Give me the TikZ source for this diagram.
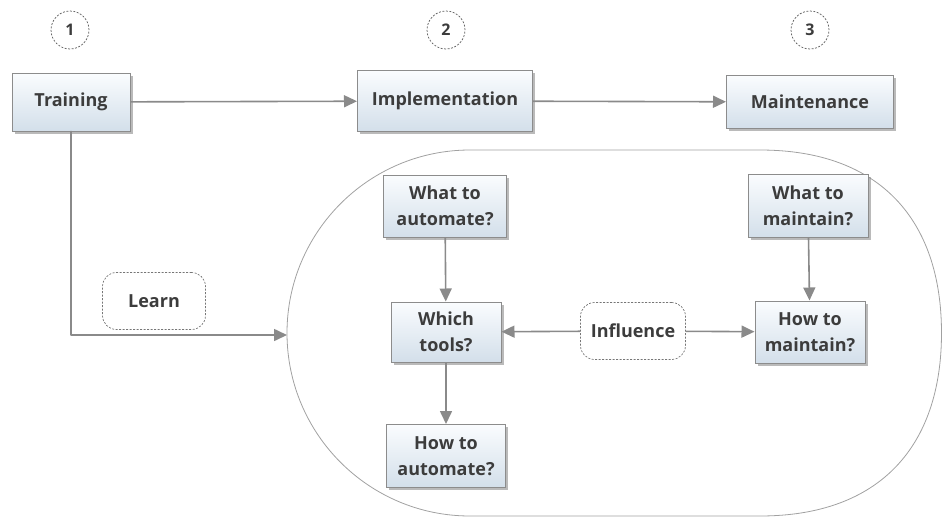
\documentclass[tikz,border=0pt]{standalone}
\usepackage{fontspec}
\setmainfont{Open Sans}
\usetikzlibrary{arrows.meta,shadows}
\definecolor{boxtop}{HTML}{FAFCFE}
\definecolor{boxbot}{HTML}{D3DFEA}
\definecolor{boxline}{HTML}{8C8C8C}
\definecolor{txt}{HTML}{3C3C3C}
\definecolor{conn}{HTML}{8A8A8A}
\tikzset{
  x=1pt, y=-1pt,
  stepbox/.style={draw=boxline, line width=1pt, top color=boxtop, bottom color=boxbot,
    drop shadow={shadow xshift=2.5pt, shadow yshift=-2.5pt, fill=black!45, opacity=0.6},
    font=\bfseries\fontsize{18}{26}\selectfont, text=txt, align=center, inner sep=0pt},
  tag/.style={draw=txt!85, dash pattern=on 2pt off 1.5pt, line width=0.7pt, circle,
    minimum size=38pt, font=\bfseries\fontsize{16}{18}\selectfont, text=txt, inner sep=0pt},
  note/.style={draw=txt!70, dash pattern=on 2pt off 1.5pt, line width=0.7pt, rounded corners=14pt,
    font=\bfseries\fontsize{18}{20}\selectfont, text=txt, inner sep=0pt},
  link/.style={draw=conn, line width=1.6pt, -{Triangle[length=13pt,width=12pt]}},
  plain/.style={draw=conn, line width=1.6pt},
  groupline/.style={draw=conn!80, line width=0.8pt}
}
\begin{document}
\begin{tikzpicture}
\useasboundingbox (0,0) rectangle (943,517);
% phase numbers
\node[tag] (n1) at (70,30) {1};
\node[tag] (n2) at (446,30) {2};
\node[tag] (n3) at (810,30) {3};
% top row of phases
\node[stepbox, minimum width=118pt, minimum height=58pt] (train) at (71,102) {Training};
\node[stepbox, minimum width=175pt, minimum height=61pt] (impl) at (445,101) {Implementation};
\node[stepbox, minimum width=167pt, minimum height=53pt] (maint) at (810,102) {Maintenance};
% rounded outline grouping the questions of phases 2 and 3
\draw[groupline] (470,150) -- (760,150)
  .. controls (880,150) and (941.5,220) .. (941.5,333)
  .. controls (941.5,446) and (880,516) .. (760,516)
  -- (470,516) arc[start angle=90, end angle=270, radius=183] -- cycle;
\coordinate (scopeW) at (287,335);
\node[stepbox, minimum width=123pt, minimum height=62pt] (whatauto) at (445,206) {What to\\automate?};
\node[stepbox, minimum width=110pt, minimum height=60pt] (tools) at (446,332) {Which\\tools?};
\node[stepbox, minimum width=119pt, minimum height=63pt] (howauto) at (446,456) {How to\\automate?};
\node[stepbox, minimum width=120pt, minimum height=63pt] (whatmaint) at (808,206) {What to\\maintain?};
\node[stepbox, minimum width=110pt, minimum height=62pt] (howmaint) at (810,332) {How to\\maintain?};
\node[note, minimum width=105pt, minimum height=57pt] (infl) at (633,331) {Influence};
\node[note, minimum width=103pt, minimum height=57pt] (learn) at (154,301) {Learn};
% connectors
\draw[link] (train) -- (impl);
\draw[link] (impl) -- (maint);
\coordinate (corner) at (71,335);
\draw[plain, line cap=round] (train.south) -- (corner);
\draw[link] (corner) -- (scopeW);
\draw[link] (whatauto) -- (tools);
\draw[link] (tools) -- (howauto);
\draw[link] (whatmaint) -- (howmaint);
\draw[link] (infl) -- (tools);
\draw[link] (infl) -- (howmaint);
\end{tikzpicture}
\end{document}
